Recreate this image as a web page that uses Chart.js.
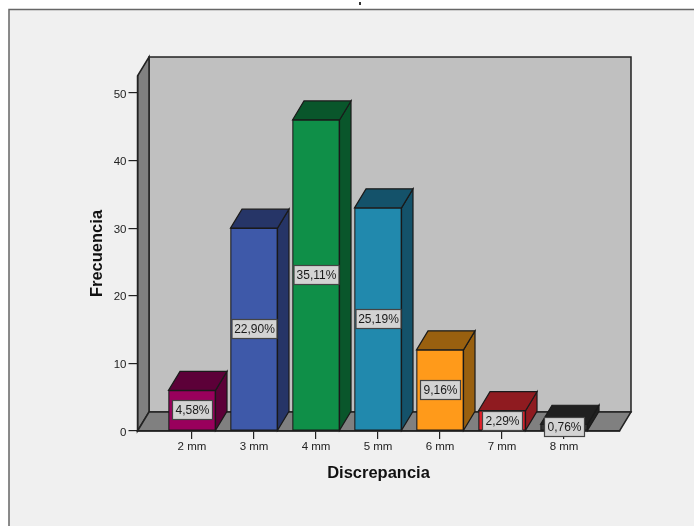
<!DOCTYPE html>
<html>
<head>
<meta charset="utf-8">
<style>
html,body{margin:0;padding:0;background:#fff;overflow:hidden}
canvas{display:block}
</style>
<script src="https://cdn.jsdelivr.net/npm/chart.js@4"></script>
</head>
<body>
<div style="width:694px;height:526px"><canvas id="c" width="694" height="526"></canvas></div>
<script>
const categories = ['2 mm','3 mm','4 mm','5 mm','6 mm','7 mm','8 mm'];
const frequencies = [6,30,46,33,12,3,1];
const percentLabels = ['4,58%','22,90%','35,11%','25,19%','9,16%','2,29%','0,76%'];
const frontColors = ['#99005c','#3e59a9','#0f8f48','#2189ad','#ff9a1a','#e0202a','#333333'];
const shadeColors = ['#5c0038','#263567','#09562b','#14526a','#99600f','#8f1b20','#202020'];
const yTicks = [0,10,20,30,40,50];

const DEPTH_X = 11.5, DEPTH_Y = -19;
const FONT = '"Liberation Sans", Arial, sans-serif';

function poly(ctx, pts, fill, stroke, lw){
  ctx.beginPath();
  pts.forEach((p,i)=> i ? ctx.lineTo(p[0],p[1]) : ctx.moveTo(p[0],p[1]));
  ctx.closePath();
  ctx.fillStyle = fill; ctx.fill();
  if (stroke){ ctx.lineWidth = lw || 1; ctx.strokeStyle = stroke; ctx.stroke(); }
}

// Page frame, stray clipped title mark and the three walls of the 3D box.
const boxPlugin = {
  id:'box',
  beforeDraw(chart){
    const {ctx,width,height,chartArea:a} = chart;
    ctx.save();
    ctx.fillStyle='#fff'; ctx.fillRect(0,0,width,height);
    ctx.fillStyle='#f0f0f0'; ctx.fillRect(9,9.5,width,height);
    ctx.strokeStyle='#666'; ctx.lineWidth=1.5;
    ctx.beginPath(); ctx.moveTo(9,height); ctx.lineTo(9,9.5); ctx.lineTo(width,9.5); ctx.stroke();
    ctx.fillStyle='#333'; ctx.fillRect(359,2,2,3);
    const L=a.left,R=a.right,T=a.top,B=a.bottom,line='#222';
    poly(ctx,[[L+DEPTH_X,T+DEPTH_Y],[R+DEPTH_X,T+DEPTH_Y],[R+DEPTH_X,B+DEPTH_Y],[L+DEPTH_X,B+DEPTH_Y]],'#c0c0c0',line,1.5);
    poly(ctx,[[L,T],[L+DEPTH_X,T+DEPTH_Y],[L+DEPTH_X,B+DEPTH_Y],[L,B]],'#808080',line,1.5);
    poly(ctx,[[L,B],[L+DEPTH_X,B+DEPTH_Y],[R+DEPTH_X,B+DEPTH_Y],[R,B]],'#808080',line,1.5);
    ctx.restore();
  },
  // Side and top faces of every bar, taken from the bar elements.
  beforeDatasetsDraw(chart){
    const {ctx} = chart;
    ctx.save();
    chart.getDatasetMeta(0).data.forEach((bar,i)=>{
      const l=bar.x-bar.width/2, r=bar.x+bar.width/2, t=bar.y, b=bar.base, c=shadeColors[i];
      poly(ctx,[[r,t],[r+DEPTH_X,t+DEPTH_Y],[r+DEPTH_X,b+DEPTH_Y],[r,b]],c,'#1a1a1a',1.2);
      poly(ctx,[[l,t],[l+DEPTH_X,t+DEPTH_Y],[r+DEPTH_X,t+DEPTH_Y],[r,t]],c,'#1a1a1a',1.2);
    });
    ctx.restore();
  },
  // Percentage tags centred on each bar.
  afterDatasetsDraw(chart){
    const {ctx} = chart;
    ctx.save();
    ctx.font='12px '+FONT; ctx.textAlign='center'; ctx.textBaseline='middle';
    chart.getDatasetMeta(0).data.forEach((bar,i)=>{
      const cx=Math.round(bar.x), cy=Math.round((bar.y+bar.base)/2);
      const w=percentLabels[i].length>5?45:40, h=19;
      ctx.fillStyle='#d3d3d3'; ctx.strokeStyle='#444'; ctx.lineWidth=1.2;
      ctx.fillRect(cx-w/2+.5,cy-h/2,w,h); ctx.strokeRect(cx-w/2+.5,cy-h/2,w,h);
      ctx.fillStyle='#1a1a1a'; ctx.fillText(percentLabels[i],cx+.5,cy+1);
    });
    ctx.restore();
  }
};

new Chart(document.getElementById('c'),{
  type:'bar',
  data:{datasets:[{
    data:frequencies.map((y,x)=>({x,y})),
    backgroundColor:frontColors,
    borderColor:'#1a1a1a',
    borderWidth:1.2,
    borderSkipped:false,
    barThickness:47
  }]},
  plugins:[boxPlugin],
  options:{
    responsive:false,
    animation:false,
    layout:{padding:{left:88,top:76,right:74.5,bottom:42.5}},
    plugins:{legend:{display:false},tooltip:{enabled:false}},
    scales:{
      x:{
        type:'linear',
        offset:false,
        min:-0.879,
        max:6.895,
        afterBuildTicks(s){ s.ticks = categories.map((_,value)=>({value})); },
        afterFit(s){ s.height = 52.5; },
        grid:{offset:false,drawOnChartArea:false,tickLength:8,color:'#222',lineWidth:1.2},
        border:{color:'#222',width:1.5},
        ticks:{
          autoSkip:false,maxRotation:0,padding:1,color:'#222',
          font:{family:FONT,size:11.5},
          callback:v=>categories[v]
        },
        title:{display:true,text:'Discrepancia',color:'#111',padding:0,
          font:{family:FONT,size:16.5,weight:'bold'}}
      },
      y:{
        min:0,
        max:52.5,
        afterBuildTicks(s){ s.ticks = yTicks.map(value=>({value})); },
        afterFit(s){ s.width = 49.5; },
        grid:{drawOnChartArea:false,tickLength:9,color:'#222',lineWidth:1.2},
        border:{color:'#222',width:1.5},
        ticks:{padding:2,labelOffset:1.5,color:'#222',font:{family:FONT,size:11.5}},
        title:{display:true,text:'Frecuencia',color:'#111',padding:0,
          font:{family:FONT,size:16.5,weight:'bold'}}
      }
    }
  }
});
</script>
</body>
</html>
